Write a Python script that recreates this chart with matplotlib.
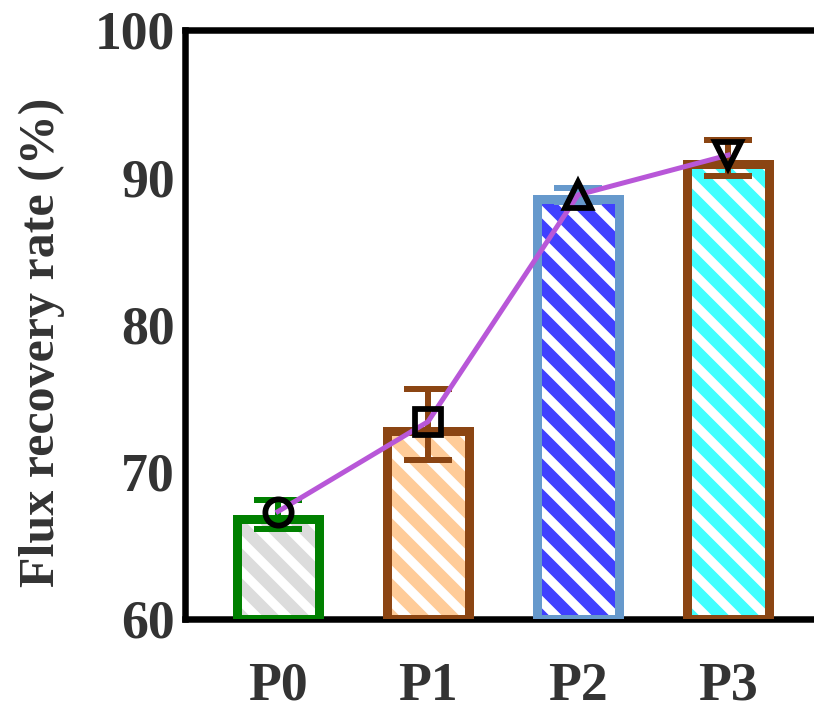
import matplotlib
matplotlib.use("Agg")
import matplotlib.pyplot as plt

# data
samples = ["P0", "P1", "P2", "P3"]
bar_values = [66.8, 72.8, 88.5, 90.9]
line_values = [67.3, 73.4, 88.8, 91.5]
err_center = [67.1, 73.2, 88.8, 91.3]
err_size = [1.0, 2.4, 0.5, 1.2]
face_colors = ["#dcdcdc", "#ffcc99", "#4040ff", "#40ffff"]
edge_colors = ["#008000", "#8b4513", "#6699cc", "#8b4513"]
markers = ["o", "s", "^", "v"]

DPI = 180
plt.rcParams["font.family"] = ["Liberation Serif", "DejaVu Serif"]
plt.rcParams["font.weight"] = "bold"
plt.rcParams["hatch.linewidth"] = 3.6
plt.rcParams["hatch.color"] = "white"

fig = plt.figure(figsize=(814 / DPI, 711 / DPI), dpi=DPI)
ax = fig.add_axes([185 / 814, 92 / 711, 636 / 814, 589 / 711])

x = list(range(len(samples)))
w = 0.55

# hatched fill (white stripes on colour), then the thick outline on top
ax.bar(x, [v - 60 for v in bar_values], bottom=60, width=w, color=face_colors,
       edgecolor="white", hatch="\\\\", linewidth=0, zorder=2)
ax.bar(x, [v - 60 for v in bar_values], bottom=60, width=w, facecolor="none",
       edgecolor=edge_colors, linewidth=3.6, zorder=3)

for i in x:
    ax.errorbar(i, err_center[i], yerr=err_size[i], fmt="none",
                ecolor=edge_colors[i], elinewidth=2.4, capsize=9.5,
                capthick=2.4, zorder=4)

ax.plot(x, line_values, color="#b857d8", linewidth=2.0, zorder=5)
for i in x:
    ax.plot(i, line_values[i], marker=markers[i], markersize=10.5,
            markerfacecolor="none", markeredgecolor="black",
            markeredgewidth=2.3, zorder=6)

ax.set_ylim(60, 100)
ax.set_xlim(-0.62, 3.62)
ax.set_yticks([60, 70, 80, 90, 100])
ax.set_xticks(x)
ax.set_xticklabels(samples)
ax.tick_params(length=0, labelsize=21.5, labelcolor="#333333")
ax.tick_params(axis="y", pad=4)
ax.tick_params(axis="x", pad=17)
ax.set_ylabel("Flux recovery rate (%)", fontsize=20, color="#333333",
              fontweight="bold")
ax.yaxis.set_label_coords(-0.188, 0.47)

for s in ["left", "top", "bottom", "right"]:
    ax.spines[s].set_linewidth(2.6)
    ax.spines[s].set_color("black")

fig.savefig("out.png", dpi=DPI)
